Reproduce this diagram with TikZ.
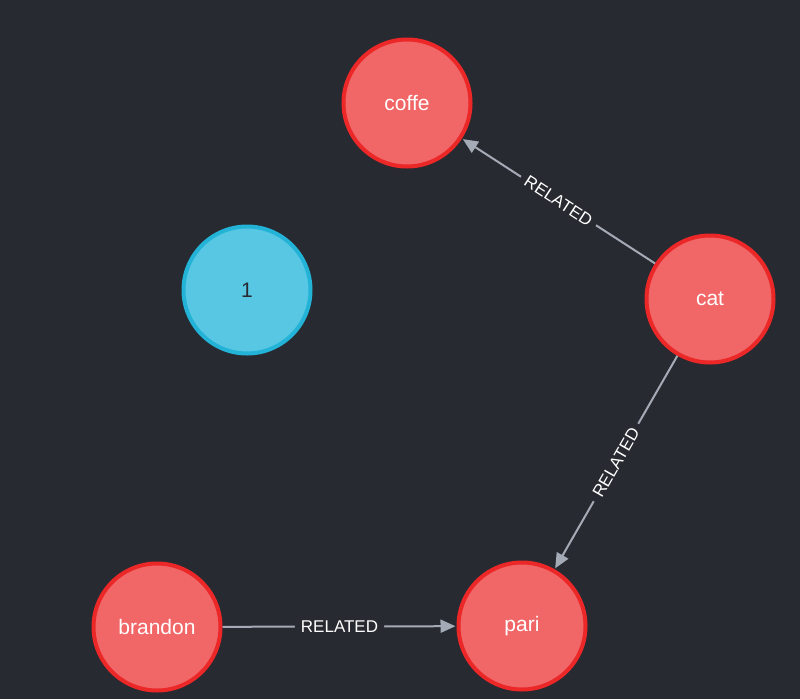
\documentclass[tikz,border=0pt]{standalone}
\usepackage{fontspec}
\setmainfont{Liberation Sans}
\usetikzlibrary{arrows.meta}
\definecolor{bg}{HTML}{282A31}
\definecolor{redfill}{HTML}{F16667}
\definecolor{redline}{HTML}{EB2728}
\definecolor{bluefill}{HTML}{57C7E3}
\definecolor{blueline}{HTML}{23B3D7}
\definecolor{edge}{HTML}{A5ABB6}
\tikzset{
  rednode/.style={circle,minimum size=127pt,inner sep=0pt,fill=redfill,draw=redline,line width=4pt,text=white,font=\fontsize{21}{25}\selectfont},
  bluenode/.style={circle,minimum size=127pt,inner sep=0pt,fill=bluefill,draw=blueline,line width=4pt,text=bg,font=\fontsize{21}{25}\selectfont},
  rel/.style={draw=edge,line width=2pt,-{Triangle[length=15pt,width=13pt]},shorten >=1pt},
  rellabel/.style={fill=bg,text=white,inner xsep=6pt,inner ysep=3pt,font=\fontsize{17}{20}\selectfont,sloped}
}
\begin{document}
\begin{tikzpicture}[x=1pt,y=-1pt]
\fill[bg] (0,0) rectangle (800,699);
\useasboundingbox (0,0) rectangle (800,699);
\node[rednode] (coffe) at (407,103) {coffe};
\node[bluenode] (one) at (247,290) {1};
\node[rednode] (cat) at (710,299) {cat};
\node[rednode] (pari) at (522,626) {pari};
\node[rednode] (brandon) at (157,627) {brandon};
\draw[rel] (cat) -- node[rellabel] {RELATED} (coffe);
\draw[rel] (cat) -- node[rellabel] {RELATED} (pari);
\draw[rel] (brandon) -- node[rellabel] {RELATED} (pari);
\end{tikzpicture}
\end{document}
